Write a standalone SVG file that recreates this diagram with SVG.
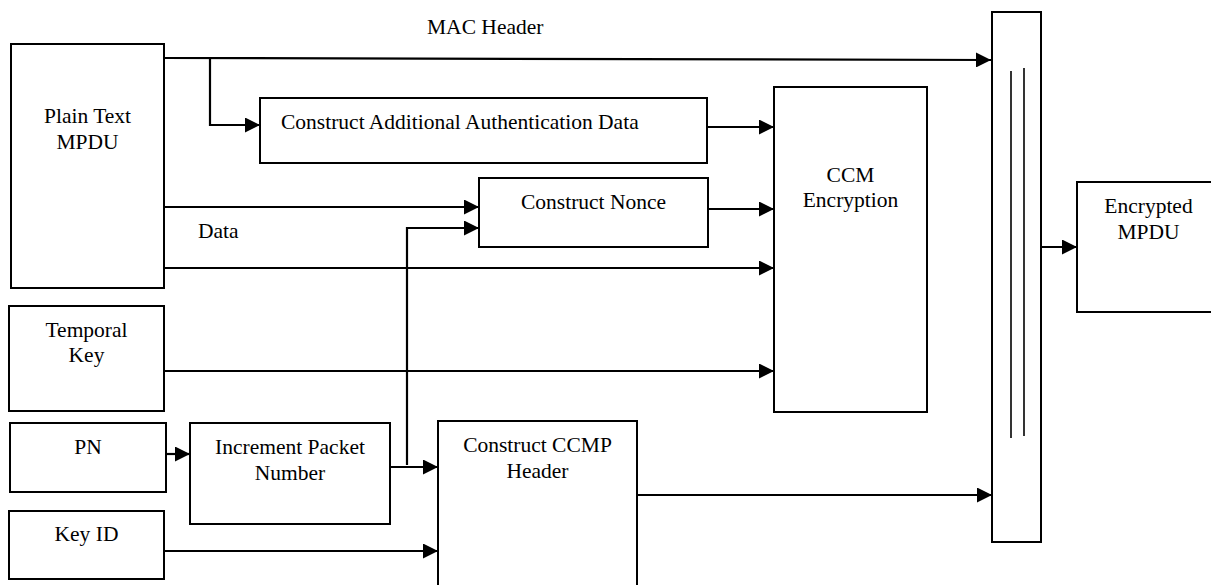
<svg xmlns="http://www.w3.org/2000/svg" width="1211" height="585" viewBox="0 0 1211 585">
  <style>
    .box { fill: #ffffff; stroke: #000000; stroke-width: 2; }
    .conn { fill: none; stroke: #000000; stroke-width: 2.2; }
    .thin { fill: none; stroke: #000000; stroke-width: 1.6; }
    text { font-family: "Liberation Serif", "Times New Roman", serif; font-size: 21.5px; fill: #000000; }
    .c { text-anchor: middle; }
  </style>
  <defs>
    <marker id="arr" markerUnits="userSpaceOnUse" markerWidth="15" markerHeight="15" refX="14" refY="7" orient="auto" viewBox="0 0 14 14">
      <path d="M0,0 L14,7 L0,14 z" fill="#000000"/>
    </marker>
  </defs>
  <rect width="1211" height="585" fill="#ffffff"/>

  <g id="plain-text-mpdu">
    <rect class="box" x="11" y="44" width="153" height="244"/>
    <text class="c" x="87.5" y="123">Plain Text</text>
    <text class="c" x="87.5" y="149">MPDU</text>
  </g>
  <g id="construct-aad">
    <rect class="box" x="260" y="98" width="447" height="65"/>
    <text x="281" y="129">Construct Additional Authentication Data</text>
  </g>
  <g id="construct-nonce">
    <rect class="box" x="479" y="178" width="229" height="69"/>
    <text class="c" x="593.5" y="209">Construct Nonce</text>
  </g>
  <g id="ccm-encryption">
    <rect class="box" x="774" y="87" width="153" height="325"/>
    <text class="c" x="850.5" y="182">CCM</text>
    <text class="c" x="850.5" y="207">Encryption</text>
  </g>
  <g id="temporal-key">
    <rect class="box" x="9" y="306" width="155" height="105"/>
    <text class="c" x="86.5" y="337">Temporal</text>
    <text class="c" x="86.5" y="362">Key</text>
  </g>
  <g id="pn">
    <rect class="box" x="10" y="423" width="156" height="69"/>
    <text class="c" x="88" y="454">PN</text>
  </g>
  <g id="increment-pn">
    <rect class="box" x="190" y="423" width="200" height="101"/>
    <text class="c" x="290" y="454">Increment Packet</text>
    <text class="c" x="290" y="480">Number</text>
  </g>
  <g id="key-id">
    <rect class="box" x="9" y="511" width="155" height="68"/>
    <text class="c" x="86.5" y="541">Key ID</text>
  </g>
  <g id="construct-ccmp-header">
    <rect class="box" x="438" y="421" width="199" height="180"/>
    <text class="c" x="537.5" y="452">Construct CCMP</text>
    <text class="c" x="537.5" y="478">Header</text>
  </g>
  <g id="combiner">
    <rect class="box" x="992" y="12" width="49" height="530"/>
    <line class="thin" x1="1011" y1="71" x2="1011" y2="438"/>
    <line class="thin" x1="1024" y1="68" x2="1024" y2="436"/>
  </g>
  <g id="encrypted-mpdu">
    <rect class="box" x="1077" y="182" width="143" height="130"/>
    <text class="c" x="1148.5" y="213">Encrypted</text>
    <text class="c" x="1148.5" y="239">MPDU</text>
  </g>

  <g id="connectors">
    <path class="conn" d="M164,58 L991,60" marker-end="url(#arr)"/>
    <path class="conn" d="M210,58 V125 H260" marker-end="url(#arr)"/>
    <path class="conn" d="M707,127 H774" marker-end="url(#arr)"/>
    <path class="conn" d="M164,207 H479" marker-end="url(#arr)"/>
    <path class="conn" d="M708,209 H774" marker-end="url(#arr)"/>
    <path class="conn" d="M164,268 H774" marker-end="url(#arr)"/>
    <path class="conn" d="M164,371 H774" marker-end="url(#arr)"/>
    <path class="conn" d="M166,454 H190" marker-end="url(#arr)"/>
    <path class="conn" d="M390,467 H438" marker-end="url(#arr)"/>
    <path class="conn" d="M407,465 V228 H479" marker-end="url(#arr)"/>
    <path class="conn" d="M164,551 H438" marker-end="url(#arr)"/>
    <path class="conn" d="M637,495 H992" marker-end="url(#arr)"/>
    <path class="conn" d="M1041,247 H1077" marker-end="url(#arr)"/>
  </g>

  <g id="labels">
    <text x="427" y="34">MAC Header</text>
    <text x="198" y="238">Data</text>
  </g>
</svg>
